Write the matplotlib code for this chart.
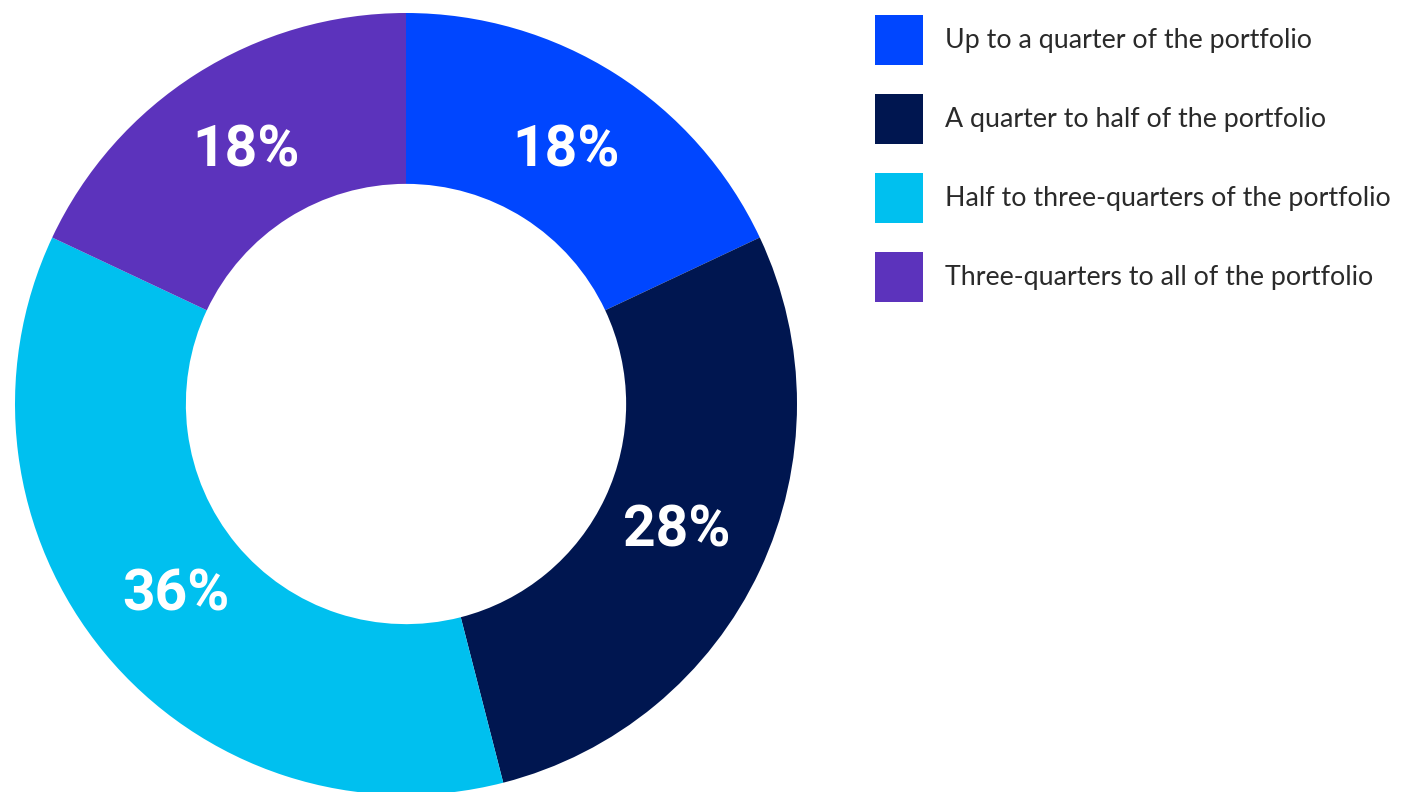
import matplotlib.pyplot as plt

categories = [
    "Up to a quarter of the portfolio",
    "A quarter to half of the portfolio",
    "Half to three-quarters of the portfolio",
    "Three-quarters to all of the portfolio",
]
shares = [18, 28, 36, 18]
colors = ["#0046FF", "#001650", "#00C0EF", "#5C33BC"]

W, H = 1407, 792
fig = plt.figure(figsize=(W / 100, H / 100), dpi=100)

# donut centred at (406, 404) px, radius 391 px
cx, cy, r = 406, 404, 391
ax = fig.add_axes([(cx - r) / W, (H - cy - r) / H, 2 * r / W, 2 * r / H])

wedges, texts, autotexts = ax.pie(
    shares, colors=colors, startangle=90, counterclock=False, radius=1,
    wedgeprops=dict(width=0.437, linewidth=0),
    autopct=lambda p: f"{p:.0f}%", pctdistance=0.765,
)
for t in autotexts:
    t.set_color("white")
    t.set_fontsize(41)
    t.set_fontweight("bold")
    t.set_fontfamily("Roboto")
ax.set_xlim(-1, 1)
ax.set_ylim(-1, 1)
ax.set_aspect("equal")
ax.axis("off")

# legend: square swatches 48x50 px, rows ~79 px apart
fs = 19.3
px = 72 / 100  # points per pixel
box_h = 50 * px
hh = (box_h - 0.245 * fs) / (0.65 * fs)
leg = fig.legend(
    wedges, categories, loc="upper left",
    bbox_to_anchor=(875 / W, 1 - 15 / H), bbox_transform=fig.transFigure,
    frameon=False, prop=dict(family="Lato", size=fs),
    handlelength=48 * px / fs, handleheight=hh,
    labelspacing=29 * px / fs, handletextpad=22 * px / fs,
    borderpad=0, borderaxespad=0,
)
for t in leg.get_texts():
    t.set_color("#2a2a2a")

fig.savefig("out.png", dpi=100)
